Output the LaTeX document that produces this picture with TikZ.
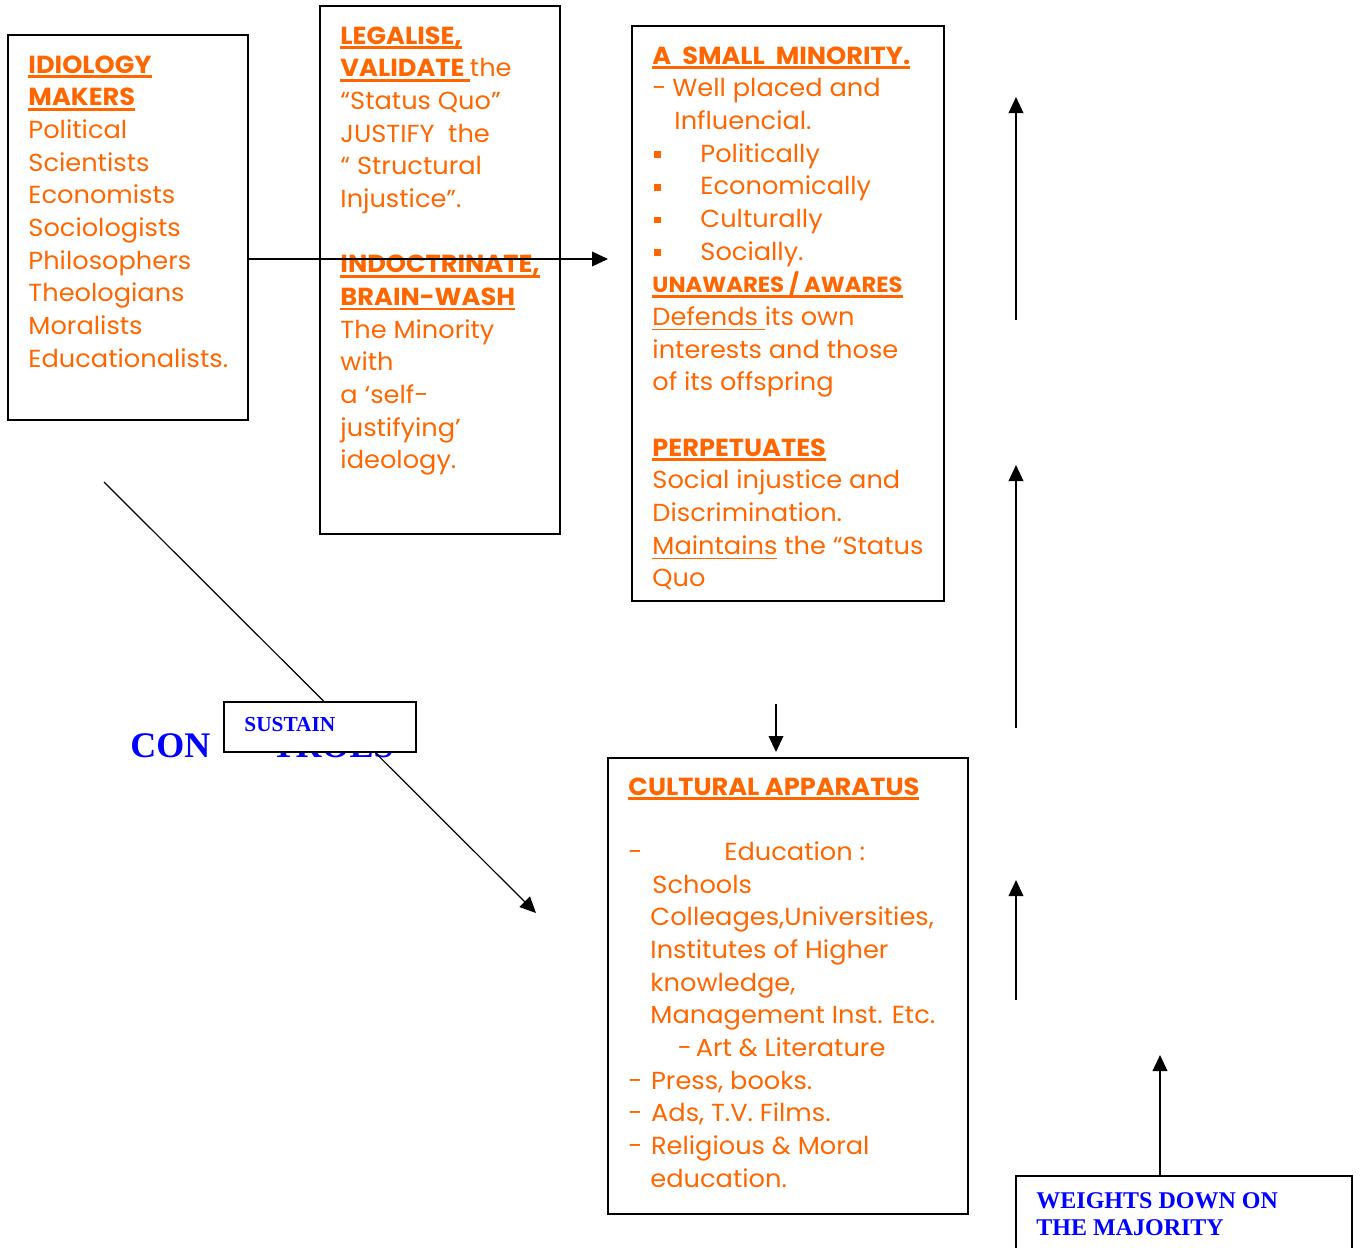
\documentclass[tikz,border=0pt]{standalone}
\usepackage{fontspec}
\setmainfont{Poppins}[FakeStretch=1.04]
\newfontfamily\blueserif{Liberation Serif}
\usetikzlibrary{arrows.meta,fit,positioning}

\definecolor{ideaorange}{HTML}{FF6600}
\definecolor{ideablue}{HTML}{0000FF}

\newsavebox\ulbox
% thick underline for the bold headings, thin one for plain words
\newcommand\ulbold[1]{\sbox\ulbox{\bfseries #1}\rlap{\rule[-3.6pt]{\wd\ulbox}{1.8pt}}\usebox\ulbox}
\newcommand\ulthin[1]{\sbox\ulbox{#1}\rlap{\rule[-3.6pt]{\wd\ulbox}{0.9pt}}\usebox\ulbox}
\newcommand\sqbul{\hspace*{1.5pt}\makebox[34.5pt][l]{\rule[3pt]{5pt}{5pt}}}
\newcommand\orfont{\fontsize{18.5}{24.5}\selectfont}

\begin{document}
\begin{tikzpicture}[x=0.75pt,y=-0.75pt]
        \tikzset{
          panel/.style={draw, line width=1.2pt, inner sep=0pt},
          whitepanel/.style={panel, fill=white},
          ortext/.style={text=ideaorange, font=\orfont, align=left, inner sep=0pt, anchor=north west},
          bluetext/.style={text=ideablue, font=\blueserif\bfseries, align=left, inner sep=0pt},
          arr/.style={-{Triangle[length=12pt,width=11pt]}, line width=1.1pt},
        }
        \useasboundingbox (0,0) rectangle (1360,1247);
        % the four panels
        \node [panel, fit={(8,35) (248,420)}] (makers) {};
        \node [panel, fit={(320,6) (560,534)}] (legalise) {};
        \node [panel, fit={(632,26) (944,601)}] (minority) {};
        \node [panel, fit={(608,758) (968,1214)}] (apparatus) {};
        \node [ortext] (makerstext) at ([shift={(21,21)}]makers.north west)
          {\ulbold{IDIOLOGY}\\ \ulbold{MAKERS}\\ Political\\ Scientists\\ Economists\\
           Sociologists\\ Philosophers\\ Theologians\\ Moralists\\ Educationalists.};
        \node [ortext] (legalisetext) at ([shift={(21,21)}]legalise.north west)
          {\ulbold{LEGALISE,}\\ \ulbold{VALIDATE }the\\ “Status Quo”\\ JUSTIFY\ \ the\\
           “ Structural\\ Injustice”.\\ {}\\ \ulbold{INDOCTRINATE,}\\ \ulbold{BRAIN-WASH}\\
           The Minority\\ with\\ a ‘self-\\ justifying’\\ ideology.};
        \node [ortext] (minoritytext) at ([shift={(21,21)}]minority.north west)
          {\ulbold{A\ \ SMALL\ \ MINORITY.}\\
           \makebox[15pt][l]{-}Well placed and\\ \hspace*{16.5pt}Influencial.\\
           \sqbul Politically\\ \sqbul Economically\\ \sqbul Culturally\\ \sqbul Socially.\\
           {\fontsize{16.4}{24.5}\selectfont\ulbold{UNAWARES / AWARES}}\\
           \ulthin{Defends }its own\\ interests and those\\
           of its offspring\\ {}\\ \ulbold{PERPETUATES}\\ Social injustice and\\
           Discrimination.\\ \ulthin{Maintains} the “Status\\ Quo};
        \node [ortext] (apparatustext) at ([shift={(21,20)}]apparatus.north west)
          {\ulbold{CULTURAL APPARATUS}\\ {}\\
           \makebox[72pt][l]{-}Education :\\ \hspace*{18pt}Schools\\
           \hspace*{16.5pt}Colleages,Universities,\\ \hspace*{16.5pt}Institutes of Higher\\
           \hspace*{16.5pt}knowledge,\\ \hspace*{16.5pt}Management Inst. Etc.\\
           \hspace*{37pt}\makebox[13.5pt][l]{-}Art \& Literature\\
           \makebox[17pt][l]{-}Press, books.\\ \makebox[17pt][l]{-}Ads, T.V. Films.\\
           \makebox[17pt][l]{-}Religious \& Moral\\ \hspace*{16.5pt}education.};

        % arrows
        \coordinate (hend) at (608,259);
        \draw [arr] (makers.east |- hend) -- (hend);
        \coordinate (dstart) at (104,482);
        \coordinate (dend) at (536,913);
        \node [bluetext, anchor=base west, font=\blueserif\bfseries\fontsize{27}{30}\selectfont]
          (controls) at (130,757) {CON\hspace{46pt}TROLS};
        \draw [arr, line width=0.9pt] (dstart) -- (dend);
        \node [whitepanel, fit={(224,702) (416,752)}] (sustain) {};
        \node [bluetext, anchor=north west, font=\blueserif\bfseries\fontsize{16}{18}\selectfont]
          at ([shift={(21,16)}]sustain.north west) {SUSTAIN};
        \coordinate (down) at (776,704);
        \draw [arr] (down) -- (down |- 0,752);
        \coordinate (up1) at (1016,97);
        \coordinate (up2) at (1016,465);
        \coordinate (up3) at (1016,880);
        \draw [arr] (1016,320) -- (up1);
        \draw [arr] (1016,728) -- (up2);
        \draw [arr] (1016,1000) -- (up3);
        \node [panel, fit={(1016,1176) (1352,1262)}] (majority) {};
        \node [bluetext, anchor=north west, font=\blueserif\bfseries\fontsize{18}{20.25}\selectfont]
          at ([shift={(21,17)}]majority.north west) {WEIGHTS DOWN ON\\ THE MAJORITY};
        \coordinate (up4) at (1160,1055);
        \draw [arr] (up4 |- majority.north) -- (up4);
      \end{tikzpicture}
\end{document}
